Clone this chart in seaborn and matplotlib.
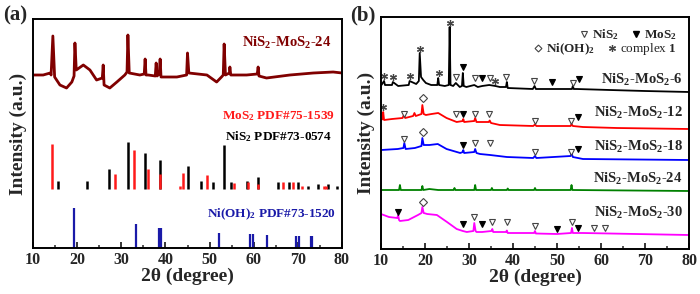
import matplotlib
matplotlib.use('Agg')
import matplotlib.pyplot as plt
from matplotlib.lines import Line2D
from matplotlib.ticker import MultipleLocator
import seaborn as sns

# ---- panel (a): NiS2-MoS2-24 pattern and reference cards ----
a_theta = [10.2, 12.3, 13.9, 14.1, 14.5, 14.9, 16.1, 17.6, 18.8, 19.3, 19.5, 19.8, 21.4, 22.9,
           24.4, 25.7, 25.9, 26.1, 27.4, 29.0, 30.8, 31.3, 31.5, 31.8, 34.2, 35.2, 35.4, 35.6,
           36.1, 37.7, 37.9, 38.1, 38.6, 38.8, 39.0, 42.6, 44.8, 45.0, 45.3, 49.4, 51.6, 52.7,
           53.1, 53.3, 53.6, 54.5, 54.6, 54.8, 58.4, 60.8, 61.0, 61.2, 62.9, 68.2, 73.5, 78.0, 80.0]
a_int = [173, 173, 175, 173, 212, 171, 163, 160, 166, 172, 205, 178, 183, 178,
         168, 170, 183, 163, 160, 166, 173, 176, 213, 175, 173, 174, 189, 173,
         173, 172, 185, 172, 174, 189, 171, 171, 173, 195, 175, 173, 166, 171,
         173, 204, 173, 175, 181, 173, 173, 174, 181, 172, 170, 173, 175, 176, 175]

nis2_card_pos = [15.7, 22.3, 27.2, 31.5, 35.3, 38.8, 45.1, 48.0, 50.8, 53.3, 54.8, 58.5,
                 60.9, 65.6, 67.9, 70.1, 72.4, 74.6, 76.9, 78.9]
nis2_card_int = [7.7, 7.7, 20.3, 46.7, 36, 28.7, 22.7, 7.7, 7, 44.3, 7, 7.7,
                 11.7, 7, 7, 6.7, 3.3, 5, 5, 2.7]
mos2_card_pos = [14.2, 28.5, 32.9, 36.0, 38.8, 43.3, 44.0, 49.4, 55.5, 58.8, 61.0, 66.6,
                 69.0, 70.9, 76.0, 76.4]
mos2_card_int = [45, 15, 38.7, 20, 15, 3.3, 16, 14, 6, 6.7, 5, 7, 7, 2.7, 2.7, 2.7]
nioh_card_pos = [19.3, 33.3, 38.6, 39.0, 52.1, 59.2, 59.9, 62.9, 69.6, 70.3, 73.0, 73.3]
nioh_card_int = [39.7, 23.7, 20.3, 20.3, 15.3, 14, 14, 13, 12, 12, 11.7, 11.7]
card_base = 59

# ---- panel (b): five samples ----
b6_theta = [10.1, 10.7, 10.9, 12.5, 12.7, 13.9, 16.3, 16.5, 18.0, 18.6, 18.8, 19.1, 19.6, 20.2,
            21.4, 22.8, 23.0, 23.2, 24.5, 25.4, 25.6, 25.8, 26.4, 27.0, 27.9, 28.4, 28.6, 28.8,
            29.4, 31.2, 32.0, 33.0, 34.6, 36.0, 37.0, 38.4, 38.6, 38.8, 44.5, 44.9, 45.2, 48.8,
            53.4, 53.6, 53.8, 54.5, 62.0, 70.0, 80.0]
b6_int = [164, 168, 164, 164, 167, 163, 164, 168, 165, 168, 196, 172, 169, 166,
          164, 164, 171, 164, 163, 164, 222, 164, 163, 166, 162, 163, 176, 163,
          162, 164, 162, 163, 164, 163, 162, 162, 167, 161, 160, 163, 160, 160,
          160, 163, 160, 160, 159, 158, 157]
b12_theta = [10.0, 10.4, 10.5, 10.7, 12.5, 14.9, 15.2, 15.5, 17.3, 17.6, 17.9, 19.2, 19.4, 19.7,
             20.2, 21.5, 23.0, 24.9, 27.2, 28.6, 28.7, 28.9, 31.2, 31.4, 31.7, 34.5, 34.7, 35.0,
             37.0, 44.6, 45.0, 45.3, 53.1, 53.3, 53.6, 55.9, 63.6, 80.0]
b12_int = [129, 130, 137, 129, 130, 131, 134, 131, 133, 136, 133, 135, 144, 135,
           134, 135, 136, 131, 127, 128, 130, 127, 128, 131, 127, 127, 128.5, 126,
           124, 123, 124.5, 123, 123, 125, 123, 122, 121, 120]
b18_theta = [10.0, 13.8, 15.1, 15.3, 15.6, 17.7, 19.2, 19.4, 19.7, 21.0, 22.9, 24.9, 28.0, 28.6,
             28.7, 28.9, 31.2, 31.4, 31.7, 32.5, 34.8, 38.6, 44.6, 45.0, 45.3, 53.1, 53.3, 53.6,
             55.9, 80.0]
b18_int = [99, 100, 101, 106, 100, 101, 103, 111, 104, 104, 105, 100, 96, 97,
           99, 96, 97, 100, 96, 95, 94, 92, 91, 93, 91, 93, 96, 92,
           90, 89]
b24_theta = [10.0, 14.1, 14.3, 14.5, 19.2, 19.4, 19.6, 21.0, 23.0, 26.5, 26.7, 26.9, 31.2, 31.4,
             31.6, 35.0, 35.2, 35.4, 38.6, 38.8, 39.0, 44.8, 45.0, 45.2, 53.1, 53.3, 53.5, 80.0]
b24_int = [59, 59, 64, 59, 59, 63, 59, 60, 59, 59, 61, 59, 59, 64,
           59, 59, 61, 59, 59, 60.5, 59, 59, 61, 59, 59, 64, 59, 58]
b30_theta = [10.0, 11.8, 13.7, 13.9, 14.1, 14.3, 16.2, 18.4, 19.2, 19.4, 19.7, 20.5, 22.7, 25.0,
             27.2, 28.6, 29.5, 31.0, 31.2, 31.5, 31.7, 33.0, 35.1, 35.3, 35.5, 38.4, 38.6, 38.8,
             40.9, 44.8, 45.0, 45.2, 50.0, 53.2, 53.4, 53.6, 55.9, 80.0]
b30_int = [35, 32, 31, 34, 29, 28, 29, 34, 36, 42, 36, 35, 34, 27,
           20, 18, 17, 18, 26, 18, 17, 17, 18, 20, 17, 17, 18.5, 16,
           16, 16, 18, 15.5, 15, 16, 21, 16, 16, 14]

# phase markers in panel (b)
nis2_mark_x = [27.1, 31.3, 34.7, 38.4, 44.8, 53.6, 15.2, 27.0, 31.4, 34.6, 45.0, 53.2,
               15.3, 31.4, 34.8, 45.0, 53.2, 31.2, 35.3, 38.6, 45.0, 53.4, 58.4, 60.9]
nis2_mark_y = [172, 171, 171, 172, 168, 166, 135, 135, 135, 135, 128, 128,
               110, 106, 106, 97, 97, 32, 27, 27, 23, 27, 21, 21]
mos2_mark_x = [28.6, 33.0, 48.8, 55.0, 28.7, 54.8, 28.7, 54.8, 13.9, 28.6, 33.0, 50.0, 54.8]
mos2_mark_y = [182, 171, 167, 170, 135, 132, 104, 100, 37, 25, 25, 20, 21]
nioh_mark_x = [19.5, 19.5, 19.5]
nioh_mark_y = [151, 117, 47]
cplx_mark_x = [10.7, 12.7, 16.5, 18.9, 23.1, 25.6, 36.0, 10.5]
cplx_mark_y = [173, 172, 173, 200, 176, 226, 168, 142]

sample_names = ['6', '12', '18', '24', '30']
sample_colors = ['black', '#ff0000', '#0000ff', '#008000', '#ff00ff']
label_y = [169, 136, 102, 70, 36]

sns.set_style('ticks')
plt.rcParams['font.family'] = ['Liberation Serif', 'DejaVu Serif']
plt.rcParams['mathtext.fontset'] = 'custom'
plt.rcParams['mathtext.rm'] = 'Liberation Serif'
plt.rcParams['mathtext.bf'] = 'Liberation Serif:bold'
plt.rcParams['mathtext.it'] = 'Liberation Serif:italic'
plt.rcParams['mathtext.default'] = 'regular'

fig = plt.figure(figsize=(7, 2.94), dpi=100)
ax1 = fig.add_axes([33 / 700, 46 / 294, 309 / 700, 229 / 294])
ax2 = fig.add_axes([381 / 700, 45 / 294, 308 / 700, 232 / 294])


def style_axes(ax, ytop):
    ax.set_xlim(10, 80)
    ax.set_ylim(0, ytop)
    ax.xaxis.set_major_locator(MultipleLocator(10))
    ax.xaxis.set_minor_locator(MultipleLocator(5))
    ax.tick_params(axis='x', which='major', direction='in', length=4, width=1.3,
                   labelsize=11.5, pad=3)
    ax.tick_params(axis='x', which='minor', direction='in', length=2.5, width=1.1)
    ax.set_yticks([])
    for lbl in ax.get_xticklabels():
        lbl.set_fontweight('bold')
    for s in ax.spines.values():
        s.set_visible(True)
        s.set_linewidth(1.4)
        s.set_color('black')
    ax.set_xlabel('2θ (degree)', fontsize=14, fontweight='bold', labelpad=0)
    ax.set_ylabel('Intensity (a.u.)', fontsize=14, fontweight='bold', labelpad=4)


# panel (a)
sns.lineplot(x=a_theta, y=a_int, ax=ax1, color='#800000', lw=2.0, sort=False, estimator=None)
ax1.vlines(nis2_card_pos, card_base, [card_base + v for v in nis2_card_int], color='black', lw=1.8)
ax1.vlines(mos2_card_pos, card_base, [card_base + v for v in mos2_card_int], color='#ff1a1a', lw=1.8)
ax1.vlines(nioh_card_pos, 0, nioh_card_int, color='#1a1aa8', lw=1.6)
ax1.text(67.5, 205, 'NiS$_2$-MoS$_2$-24', color='#800000', fontsize=10.5, fontweight='bold',
         ha='center', va='center')
ax1.text(65.5, 132, 'MoS$_2$ PDF#75-1539', color='#ff1a1a', fontsize=9.5, fontweight='bold',
         ha='center', va='center')
ax1.text(65.7, 111, 'NiS$_2$ PDF#73-0574', color='black', fontsize=9.5, fontweight='bold',
         ha='center', va='center')
ax1.text(64.1, 34, 'Ni(OH)$_2$ PDF#73-1520', color='#1a1aa8', fontsize=9.5, fontweight='bold',
         ha='center', va='center')
style_axes(ax1, 229)

# panel (b)
curves = [(b6_theta, b6_int), (b12_theta, b12_int), (b18_theta, b18_int),
          (b24_theta, b24_int), (b30_theta, b30_int)]
for (tx, ty), name, col, ly in zip(curves, sample_names, sample_colors, label_y):
    sns.lineplot(x=tx, y=ty, ax=ax2, color=col, lw=1.3, sort=False, estimator=None)
    ax2.text(78.6, ly, 'NiS$_2$-MoS$_2$-' + name, fontsize=10.5, fontweight='bold',
             ha='right', va='center')

ax2.plot(nis2_mark_x, nis2_mark_y, ls='none', marker='v', ms=5, mfc='white', mec='#444444', mew=0.8)
ax2.plot(mos2_mark_x, mos2_mark_y, ls='none', marker='v', ms=5, mfc='black', mec='black', mew=0.8)
ax2.plot(nioh_mark_x, nioh_mark_y, ls='none', marker='D', ms=4, mfc='white', mec='#444444', mew=0.8)
ax2.plot(cplx_mark_x, cplx_mark_y, ls='none', marker=(6, 2, 0), ms=5, mec='#444444', mew=0.9)

h_nis2 = Line2D([], [], ls='none', marker='v', ms=5, mfc='white', mec='#444444', mew=0.8)
h_mos2 = Line2D([], [], ls='none', marker='v', ms=5, mfc='black', mec='black')
h_nioh = Line2D([], [], ls='none', marker='D', ms=3.5, mfc='white', mec='#444444', mew=0.8)
h_cplx = Line2D([], [], ls='none', marker=(6, 2, 0), ms=5, mec='#444444', mew=0.9)
leg1 = ax2.legend([h_nis2, h_mos2], [r'$\mathbf{NiS_2}$', r'$\mathbf{MoS_2}$'], ncol=2,
                  loc='upper right', bbox_to_anchor=(0.99, 0.995), frameon=False,
                  fontsize=9.5, handlelength=0.8, handletextpad=0.2, columnspacing=0.9,
                  borderpad=0.2)
ax2.add_artist(leg1)
ax2.legend([h_nioh, h_cplx], [r'$\mathbf{Ni(OH)_2}$', r'complex $\mathbf{1}$'], ncol=2,
           loc='upper right', bbox_to_anchor=(0.99, 0.935), frameon=False,
           fontsize=9.5, handlelength=0.8, handletextpad=0.2, columnspacing=0.9,
           borderpad=0.2)
style_axes(ax2, 232)

fig.text(0.004, 0.949, '(a)', fontsize=15, fontweight='bold', va='center', ha='left')
fig.text(0.500, 0.949, '(b)', fontsize=15, fontweight='bold', va='center', ha='left')

fig.savefig('out.png', dpi=100)
